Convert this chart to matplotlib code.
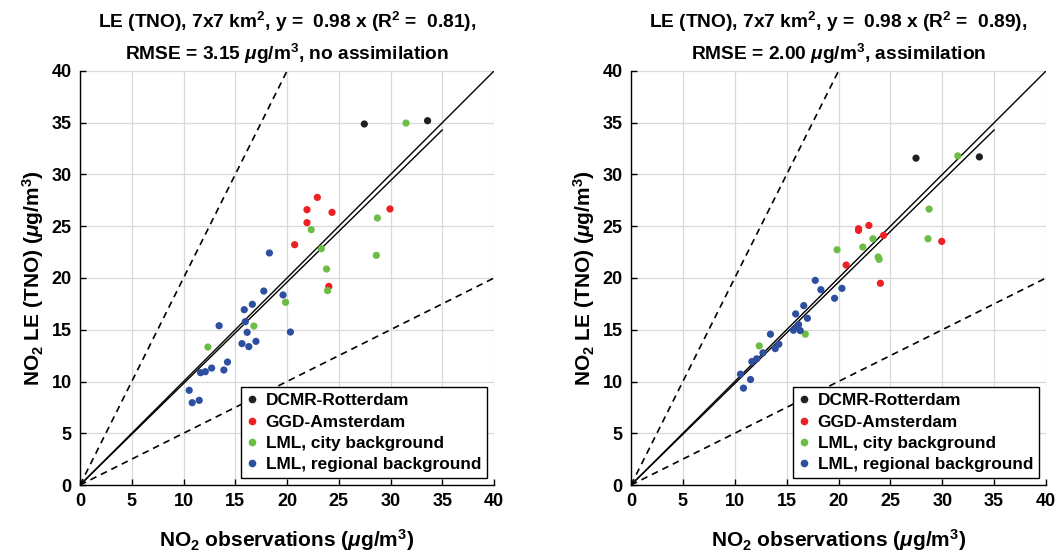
import numpy as np
import matplotlib
matplotlib.use('Agg')
import matplotlib.pyplot as plt
from matplotlib.lines import Line2D

plt.rcParams['font.family'] = ['Liberation Sans', 'DejaVu Sans']
plt.rcParams['font.weight'] = 'bold'
plt.rcParams['mathtext.fontset'] = 'custom'
plt.rcParams['mathtext.rm'] = 'Liberation Sans:bold'
plt.rcParams['mathtext.bf'] = 'Liberation Sans:bold'
plt.rcParams['mathtext.it'] = 'Liberation Sans:italic'
plt.rcParams['mathtext.default'] = 'rm'

# observations (shared by both panels) and model values per panel
dcmr_obs = [27.47, 33.58]
dcmr_noassim = [34.88, 35.2]
dcmr_assim = [31.58, 31.7]

ggd_obs = [22.93, 21.93, 24.35, 29.95, 21.93, 20.74, 24.04]
ggd_noassim = [27.79, 26.6, 26.34, 26.67, 25.35, 23.22, 19.19]
ggd_assim = [25.08, 24.6, 24.12, 23.54, 24.76, 21.25, 19.49]

city_obs = [31.5, 28.73, 28.63, 23.32, 22.34, 19.86, 23.82, 23.92, 16.8, 12.36]
city_noassim = [34.97, 25.8, 22.19, 22.83, 24.67, 17.65, 20.87, 18.78, 15.36, 13.33]
city_assim = [31.8, 26.66, 23.79, 23.79, 22.99, 22.73, 22.03, 21.8, 14.57, 13.44]

reg_obs = [18.3, 17.76, 19.62, 15.87, 16.65, 15.97, 13.44, 16.15, 20.33, 15.65,
           17.0, 16.31, 14.25, 13.9, 12.72, 12.11, 11.65, 10.55, 11.52, 10.84]
reg_noassim = [22.42, 18.74, 18.36, 16.94, 17.46, 15.78, 15.39, 14.75, 14.78, 13.66,
               13.88, 13.37, 11.88, 11.11, 11.3, 10.95, 10.85, 9.15, 8.18, 7.95]
reg_assim = [18.87, 19.77, 18.04, 16.53, 17.33, 15.21, 14.57, 15.5, 19.0, 14.95,
             16.11, 14.92, 13.6, 13.18, 12.77, 12.19, 11.93, 10.71, 10.19, 9.36]

labels = ['DCMR-Rotterdam', 'GGD-Amsterdam', 'LML, city background', 'LML, regional background']
colors = ['#231f20', '#ed2024', '#6cbd45', '#2e4fa0']

titles = [r'LE (TNO), 7x7 km$^2$, y =  0.98 x (R$^2$ =  0.81),' '\n'
          r'RMSE = 3.15 $\mathit{\mu}$g/m$^3$, no assimilation',
          r'LE (TNO), 7x7 km$^2$, y =  0.98 x (R$^2$ =  0.89),' '\n'
          r'RMSE = 2.00 $\mathit{\mu}$g/m$^3$, assimilation']
slopes = [0.98, 0.98]

fig = plt.figure(figsize=(10.61, 5.56), dpi=100)
ax1 = fig.add_axes([80/1061, 1-485/556, 414/1061, 414/556])
ax2 = fig.add_axes([631/1061, 1-485/556, 415/1061, 414/556])

panels = [
    (ax1, [dcmr_noassim, ggd_noassim, city_noassim, reg_noassim]),
    (ax2, [dcmr_assim, ggd_assim, city_assim, reg_assim]),
]
obs_sets = [dcmr_obs, ggd_obs, city_obs, reg_obs]

for i, (ax, mod_sets) in enumerate(panels):
    ax.grid(True, color='#d9d9d9', linewidth=0.9)
    ax.set_axisbelow(True)
    xx = np.array([0, 40])
    ax.plot([0, 20], [0, 40], 'k--', lw=1.2, dashes=(4, 3))
    ax.plot(xx, 0.5 * xx, 'k--', lw=1.2, dashes=(4, 3))
    ax.plot(xx, xx, 'k-', lw=1.0)
    ax.plot([0, 35], [0, slopes[i] * 35], 'k-', lw=1.0)
    for obs, mod, c in zip(obs_sets, mod_sets, colors):
        ax.scatter(obs, mod, s=27, color=c, edgecolors='none', zorder=3)
    ax.set_xlim(0, 40)
    ax.set_ylim(0, 40)
    ax.set_xticks(range(0, 41, 5))
    ax.set_yticks(range(0, 41, 5))
    ax.tick_params(direction='in', length=4, width=1, labelsize=13, pad=6)
    for lab in ax.get_xticklabels() + ax.get_yticklabels():
        lab.set_fontweight('bold')
    ax.spines['top'].set_visible(False)
    ax.spines['right'].set_visible(False)
    ax.spines['left'].set_linewidth(1.0)
    ax.spines['bottom'].set_linewidth(1.0)
    ax.set_xlabel(r'NO$_2$ observations ($\mathit{\mu}$g/m$^3$)', fontsize=15, fontweight='bold', labelpad=12)
    ax.set_ylabel(r'NO$_2$ LE (TNO) ($\mathit{\mu}$g/m$^3$)', fontsize=15, fontweight='bold', labelpad=4)
    ax.set_title(titles[i], fontsize=13.8, fontweight='bold', pad=8, linespacing=1.45)
    handles = [Line2D([], [], marker='o', ls='none', color=c, markersize=4.5) for c in colors]
    leg = ax.legend(handles, labels, loc='lower right', fontsize=12.4, frameon=True,
                    fancybox=False, edgecolor='black', framealpha=1,
                    handlelength=0.6, handletextpad=0.5, labelspacing=0.36,
                    borderpad=0.35, borderaxespad=0.4)
    leg.get_frame().set_linewidth(1.0)
    for t in leg.get_texts():
        t.set_fontweight('bold')

fig.savefig('out.png', dpi=100)
